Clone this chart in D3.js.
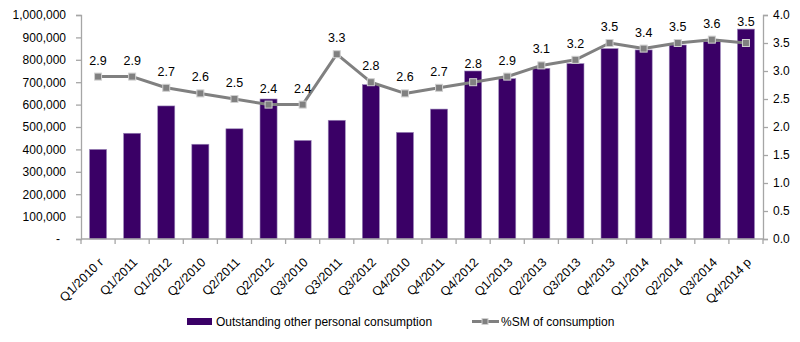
<!DOCTYPE html>
<html><head><meta charset="utf-8">
<script src="https://cdn.jsdelivr.net/npm/d3@7"></script>
<style>body{margin:0;background:#fff}svg{display:block}text{font-family:"Liberation Sans",Arial,sans-serif;fill:#000}</style>
</head><body><svg id="c" width="800" height="342"></svg>
<script>
const categories = ["Q1/2010 r","Q1/2011","Q1/2012","Q2/2010","Q2/2011","Q2/2012","Q3/2010","Q3/2011","Q3/2012","Q4/2010","Q4/2011","Q4/2012","Q1/2013","Q2/2013","Q3/2013","Q4/2013","Q1/2014","Q2/2014","Q3/2014","Q4/2014 p"];
const outstanding = [400000,472000,594000,423000,492000,625000,440000,530000,689000,476000,580000,750000,716000,762000,783000,850000,844000,866000,881000,937000];
const smShare = [2.9,2.9,2.7,2.6,2.5,2.4,2.4,3.3,2.8,2.6,2.7,2.8,2.9,3.1,3.2,3.5,3.4,3.5,3.56,3.5];
const leftTicks = [0,100000,200000,300000,400000,500000,600000,700000,800000,900000,1000000];
const rightTicks = [0,0.5,1,1.5,2,2.5,3,3.5,4];
const seriesNames = ["Outstanding other personal consumption","%SM of consumption"];

const svg = d3.select("#c");
const L = 81, R = 763, T = 15, B = 239;
const x = d3.scaleBand().domain(categories).range([L, R]).paddingInner(0.5).paddingOuter(0.25);
const yL = d3.scaleLinear().domain([0, 1000000]).range([B, T]);
const yR = d3.scaleLinear().domain([0, 4]).range([B, T]);
const axisCol = "#a6a6a6";
const barCol = "#3a0066";
const lineCol = "#808080";

// bars
svg.append("g").selectAll("rect").data(outstanding).join("rect")
  .attr("x", (d,i) => x(categories[i]))
  .attr("y", d => yL(d))
  .attr("width", x.bandwidth())
  .attr("height", d => B - yL(d))
  .attr("fill", barCol)
  .attr("stroke", "#9a86b8").attr("stroke-width", 0.6);

// left axis
const gl = svg.append("g").attr("transform", `translate(${L},0)`)
  .call(d3.axisLeft(yL).tickValues(leftTicks).tickSize(5).tickPadding(10)
    .tickFormat(d => d === 0 ? "-" : d3.format(",")(d)));
// right axis
const gr = svg.append("g").attr("transform", `translate(${R},0)`)
  .call(d3.axisRight(yR).tickValues(rightTicks).tickSize(5).tickPadding(5)
    .tickFormat(d3.format(".1f")));
[gl, gr].forEach(g => {
  g.select(".domain").attr("stroke", axisCol).attr("stroke-width", 1.3);
  g.selectAll(".tick line").attr("stroke", axisCol).attr("stroke-width", 1.3);
  g.selectAll(".tick text").attr("font-size", 12).attr("font-family", "Liberation Sans, Arial, sans-serif").attr("fill", "#000");
});
gl.selectAll(".tick text").filter(d => d === 0).attr("dx", -6);

// x axis
const step = x.step();
const boundaries = d3.range(categories.length + 1).map(i => L + i * step);
const gx = svg.append("g");
gx.append("line").attr("x1", L).attr("x2", R).attr("y1", B).attr("y2", B).attr("stroke", axisCol).attr("stroke-width", 1.3);
gx.selectAll("line.t").data(boundaries).join("line").attr("class","t")
  .attr("x1", d => d).attr("x2", d => d).attr("y1", B).attr("y2", B + 5)
  .attr("stroke", axisCol).attr("stroke-width", 1.3);
gx.selectAll("text").data(categories).join("text")
  .attr("transform", d => `translate(${x(d) + x.bandwidth()/2 + 3},${B + 21}) rotate(-45)`)
  .attr("text-anchor", "end").attr("dy", "0.35em")
  .attr("font-size", 12.5).text(d => d);

// line
const cx = i => x(categories[i]) + x.bandwidth()/2;
const line = d3.line().x((d,i) => cx(i)).y(d => yR(d));
svg.append("path").datum(smShare).attr("d", line)
  .attr("fill", "none").attr("stroke", lineCol).attr("stroke-width", 3).attr("stroke-linejoin", "round");
svg.append("g").selectAll("rect").data(smShare).join("rect")
  .attr("x", (d,i) => cx(i) - 3.5).attr("y", d => yR(d) - 3.5)
  .attr("width", 7).attr("height", 7)
  .attr("fill", lineCol).attr("stroke", "#d0d0d0").attr("stroke-width", 1);
svg.append("g").selectAll("text").data(smShare).join("text")
  .attr("x", (d,i) => cx(i))
  .attr("y", (d,i) => Math.min(yR(d) - 12, yL(outstanding[i]) - 3))
  .attr("text-anchor", "middle").attr("font-size", 12.5)
  .text(d => d3.format(".1f")(Math.round(d * 10) / 10));

// legend
const lg = svg.append("g");
lg.append("rect").attr("x", 187).attr("y", 318).attr("width", 25).attr("height", 7).attr("fill", barCol);
lg.append("text").attr("x", 216).attr("y", 326).attr("font-size", 12).text(seriesNames[0]);
lg.append("line").attr("x1", 472).attr("x2", 499).attr("y1", 321.5).attr("y2", 321.5).attr("stroke", lineCol).attr("stroke-width", 3);
lg.append("rect").attr("x", 482).attr("y", 318.5).attr("width", 6).attr("height", 6).attr("fill", lineCol).attr("stroke", "#d0d0d0");
lg.append("text").attr("x", 501).attr("y", 326).attr("font-size", 12).text(seriesNames[1]);
</script></body></html>
